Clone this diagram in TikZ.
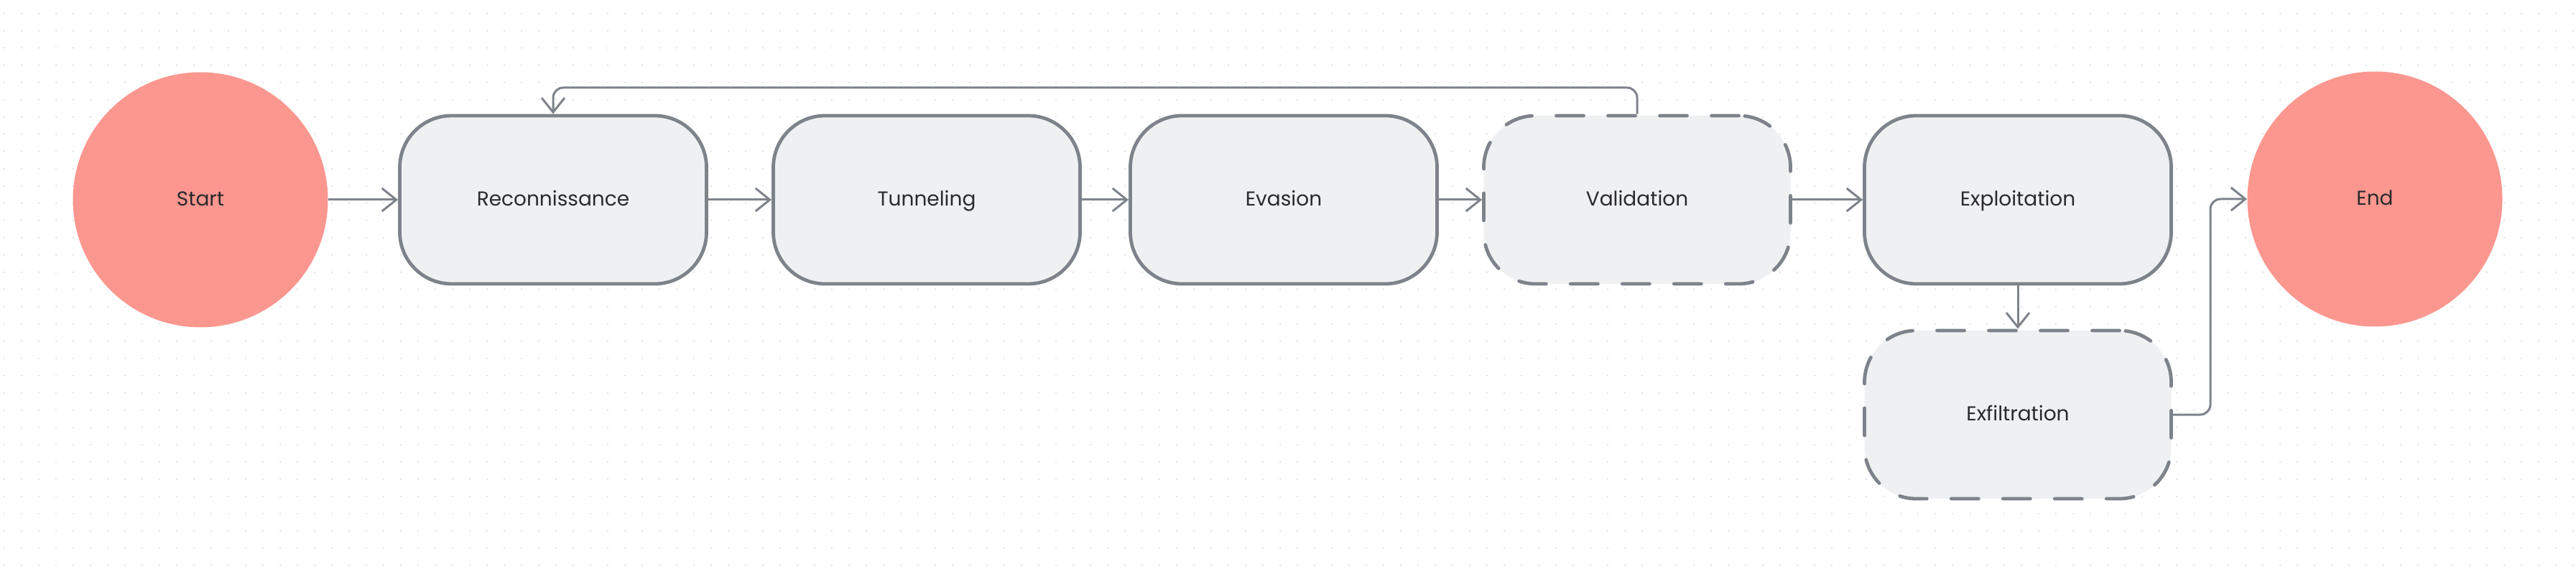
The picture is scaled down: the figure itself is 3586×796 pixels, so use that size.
\documentclass[tikz,border=0pt]{standalone}
\usepackage{fontspec}
\setmainfont{Poppins}
\usetikzlibrary{arrows.meta}
\definecolor{circ}{HTML}{FB978F}
\definecolor{boxf}{HTML}{EFF0F2}
\definecolor{boxd}{HTML}{7E838B}
\definecolor{dotc}{HTML}{DCDEE4}
\definecolor{txt}{HTML}{2A2A2E}
\begin{document}
\begin{tikzpicture}[x=0.5pt,y=-0.5pt,
  lbl/.style={text=txt,font=\fontsize{14}{16}\selectfont,text height=0.85em,text depth=0pt},
  term/.style={circle,fill=circ,draw=none,minimum size=177.5pt,inner sep=0pt,lbl},
  stepbox/.style={rectangle,rounded corners=36pt,fill=boxf,draw=boxd,line width=2.4pt,
    minimum width=213.5pt,minimum height=117pt,inner sep=0pt,lbl},
  dashbox/.style={stepbox,dash pattern=on 19pt off 17pt,line cap=round},
  conn/.style={draw=boxd,line width=1.5pt,rounded corners=7pt,
    -{Straight Barb[length=10pt,width=16pt,line width=1.5pt]}}]
\useasboundingbox (0,0) rectangle (3586,796);
\fill[white] (0,0) rectangle (3586,796);
\foreach \i in {0,...,149}{\foreach \j in {0,...,32}{\fill[dotc] (6+24*\i,18.7+24*\j) circle (1.2);}}
\node[term] (start) at (279,278) {Start};
\node[term] (end) at (3306,277) {End};
\node[stepbox] (rec) at (770,278) {Reconnissance};
\node[stepbox] (tun) at (1290,278) {Tunneling};
\node[stepbox] (eva) at (1787,278) {Evasion};
\node[dashbox] (val) at (2279,278) {Validation};
\node[stepbox] (exp) at (2809,278) {Exploitation};
\node[dashbox] (exf) at (2809,577) {Exfiltration};
\coordinate (fb) at (1500,122);
\coordinate (ee) at (3077,420);
\draw[conn] (start) -- (rec);
\draw[conn] (rec) -- (tun);
\draw[conn] (tun) -- (eva);
\draw[conn] (eva) -- (val);
\draw[conn] (val) -- (exp);
\draw[conn] (exp) -- (exf);
\draw[conn] (val.north) |- (fb) -| (rec.north);
\draw[conn] (exf.east) -| (ee) |- (end.west);
\end{tikzpicture}
\end{document}
